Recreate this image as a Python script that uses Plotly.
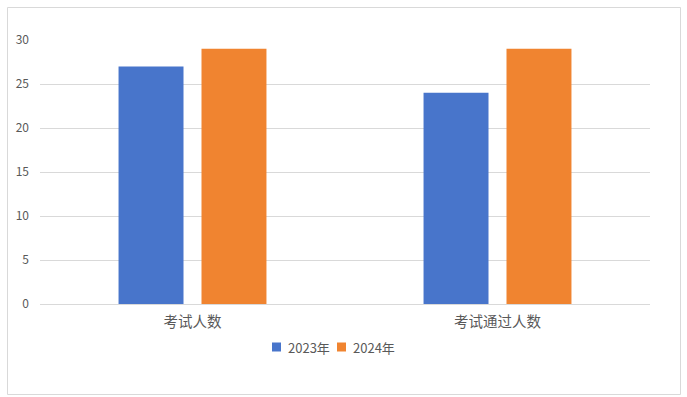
import plotly.graph_objects as go

categories = ["考试人数", "考试通过人数"]
series_names = ["2023年", "2024年"]
values_2023 = [27, 24]
values_2024 = [29, 29]
colors = ["#4875CB", "#F08430"]

W, H = 687, 397
L, R, T, B = 40, 37, 40, 93
PW, PH = W - L - R, H - T - B


def px_x(px):
    return (px - L) / PW


def px_y(py):
    return (H - B - py) / PH


fig = go.Figure()
for name, vals, c in zip(series_names, [values_2023, values_2024], colors):
    fig.add_trace(go.Bar(x=categories, y=vals, name=name, showlegend=False,
                         marker=dict(color=c, line=dict(width=0))))

fig.update_layout(
    width=W, height=H,
    margin=dict(l=L, r=R, t=T, b=B),
    paper_bgcolor="white", plot_bgcolor="white",
    font=dict(family="Noto Sans CJK SC, Microsoft YaHei, sans-serif", size=12, color="#595959"),
    barmode="group", bargap=0.456, bargroupgap=0.217,
    showlegend=False,
    xaxis=dict(showgrid=False, showline=True, linecolor="#d9d9d9", linewidth=1,
               ticks="", tickfont=dict(size=14.5, color="#595959"), ticklabelstandoff=5),
    yaxis=dict(range=[0, 30], dtick=5, showgrid=True, gridcolor="#d9d9d9", gridwidth=1,
               zeroline=False, showline=False, ticks="", tickfont=dict(size=12, color="#595959"),
               ticklabelstandoff=10),
)

# outer border
fig.add_shape(type="rect", xref="paper", yref="paper",
              x0=px_x(7.5), x1=px_x(680.5), y0=px_y(394.5), y1=px_y(7.5),
              line=dict(color="#d9d9d9", width=1), fillcolor="rgba(0,0,0,0)", layer="below")

# legend (drawn manually to match spacing)
leg_x0, leg_step, leg_y = 272, 65, 347
for i, (name, c) in enumerate(zip(series_names, colors)):
    sx = leg_x0 + i * leg_step
    fig.add_shape(type="rect", xref="paper", yref="paper",
                  x0=px_x(sx), x1=px_x(sx + 9), y0=px_y(leg_y + 4.5), y1=px_y(leg_y - 4.5),
                  line=dict(width=0), fillcolor=c)
    fig.add_annotation(xref="paper", yref="paper", x=px_x(sx + 14), y=px_y(leg_y),
                       xanchor="left", yanchor="middle", text=name, showarrow=False,
                       font=dict(size=13, color="#595959"))

fig.write_html("out.html", config={"displayModeBar": False},
               post_script="document.body.style.margin='0';document.body.style.overflow='hidden';")
